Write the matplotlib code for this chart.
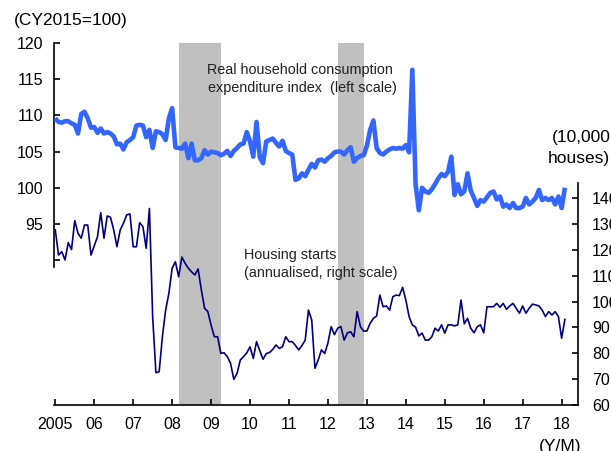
import numpy as np
import matplotlib
matplotlib.use("Agg")
import matplotlib.pyplot as plt

plt.rcParams['font.family'] = ['Liberation Sans', 'DejaVu Sans']

# ---------------- data ----------------
start_year = 2005  # monthly data, Jan 2005 onward

consumption = [
    109.6, 109.1, 109.0, 109.2, 109.2, 108.9, 108.7, 107.5, 110.2, 110.5, 109.6, 108.3,
    108.4, 107.6, 108.2, 107.5, 107.7, 107.5, 107.1, 106.0, 106.1, 105.3, 106.3, 106.6,
    107.0, 108.6, 108.7, 108.6, 107.0, 108.0, 105.5, 107.8, 107.7, 107.4, 106.6, 109.6,
    111.0, 105.6, 105.5, 105.4, 106.1, 104.1, 106.1, 103.8, 103.8, 104.1, 105.2, 104.6,
    105.0, 104.9, 104.8, 104.5, 104.7, 105.1, 104.4, 105.1, 105.5, 106.0, 106.1, 107.7,
    106.4, 104.3, 109.1, 104.2, 103.4, 106.4, 106.6, 106.8, 106.2, 105.7, 106.5, 105.1,
    104.8, 104.6, 101.1, 101.3, 102.0, 101.6, 102.5, 103.3, 102.8, 103.8, 103.9, 103.6,
    104.1, 104.4, 104.9, 105.0, 105.0, 104.6, 105.2, 105.6, 103.6, 104.1, 104.4, 104.5,
    105.8, 108.0, 109.3, 105.5, 104.8, 104.6, 105.0, 105.3, 105.5, 105.4, 105.5, 105.4,
    105.9, 104.9, 116.3, 100.5, 96.9, 100.0, 99.5, 99.3, 99.8, 100.5, 101.3, 101.9,
    101.6, 102.2, 104.3, 99.0, 100.5, 99.1, 99.5, 102.0, 99.6, 98.6, 97.5, 98.3,
    98.1, 98.7, 99.3, 99.5, 98.4, 98.8, 97.4, 97.7, 97.2, 97.9, 97.2, 97.2,
    97.4, 98.6, 97.7, 98.1, 98.6, 99.7, 98.3, 98.6, 98.3, 98.6, 97.7, 98.8,
    97.2, 100.0,
]

housing = [
    127.7, 118.0, 119.3, 116.1, 122.8, 120.1, 131.3, 126.4, 124.5, 129.6, 129.6, 118.0,
    121.5, 125.1, 134.4, 124.5, 133.1, 132.6, 127.7, 121.2, 127.7, 130.3, 133.5, 133.9,
    121.2, 121.2, 130.5, 129.0, 120.6, 136.0, 94.1, 72.5, 72.9, 86.4, 96.7, 103.2,
    112.9, 115.4, 109.6, 117.2, 114.8, 112.9, 111.5, 110.3, 112.6, 104.5, 97.4, 96.1,
    90.9, 86.4, 86.4, 80.0, 80.2, 78.7, 76.1, 69.9, 72.2, 77.4, 78.7, 80.2,
    82.5, 78.0, 84.5, 81.0, 77.7, 79.9, 80.3, 81.5, 83.2, 81.9, 82.5, 86.4,
    84.5, 84.5, 83.0, 81.3, 83.0, 85.1, 96.7, 92.9, 74.2, 77.4, 81.3, 79.9,
    84.0, 90.3, 87.2, 89.7, 90.3, 85.1, 87.9, 88.3, 86.4, 96.1, 90.3, 88.6,
    88.6, 91.6, 93.5, 94.4, 102.5, 98.0, 98.3, 96.7, 101.9, 102.5, 102.3, 105.5,
    100.6, 94.2, 91.0, 90.1, 86.7, 87.8, 85.1, 85.1, 86.4, 89.7, 88.6, 91.0,
    87.8, 91.0, 91.0, 90.6, 91.0, 100.6, 91.4, 93.5, 89.7, 87.9, 90.3, 91.0,
    87.9, 98.0, 98.0, 98.0, 99.3, 97.8, 99.3, 97.0, 98.3, 99.3, 97.4, 95.5,
    98.3, 95.5, 97.4, 99.0, 98.7, 98.3, 96.7, 94.2, 96.1, 94.8, 96.1, 94.2,
    85.8, 93.1,
]

# shaded periods (start month, end month)
shade_periods = [("2008-03", "2009-04"), ("2012-04", "2012-12")]

year_ticks = list(range(2005, 2019))
year_labels = ["2005"] + ["%02d" % (y % 100) for y in range(2006, 2019)]
left_ticks = [90, 95, 100, 105, 110, 115, 120]
left_labels = ["", "95", "100", "105", "110", "115", "120"]
right_ticks = [60, 70, 80, 90, 100, 110, 120, 130, 140]
right_labels = [str(v) for v in right_ticks]


def ym(s):
    y, m = s.split("-")
    return int(y) + (int(m) - 1) / 12.0


t_c = start_year + np.arange(len(consumption)) / 12.0
t_h = start_year + np.arange(len(housing)) / 12.0

# ---------------- figure ----------------
W, H = 611, 451
fig = plt.figure(figsize=(W / 100, H / 100), dpi=100)
ax = fig.add_axes([54 / W, 46 / H, 524 / W, 362 / H])
ax.set_xlim(2004.967, 2018.42)
ax.set_ylim(70, 120)
ax2 = ax.twinx()
ax2.set_ylim(60, 200)
ax.patch.set_visible(False)

for a, b in shade_periods:
    ax.axvspan(ym(a), ym(b), color="#C0C0C0", lw=0, zorder=0)

ax2.plot(t_h, housing, color="#000080", lw=1.2, zorder=3)
ax.plot(t_c, consumption, color="#3366FF", lw=3.3, zorder=4,
        solid_joinstyle="round", solid_capstyle="butt")

# spines
for s in ["top", "right"]:
    ax.spines[s].set_visible(False)
for s in ["top", "left", "bottom"]:
    ax2.spines[s].set_visible(False)
ax.spines["left"].set_bounds(89, 120)
ax2.spines["right"].set_bounds(60, 146)
for sp in [ax.spines["left"], ax.spines["bottom"], ax2.spines["right"]]:
    sp.set_linewidth(1.2)
    sp.set_color("black")

ax.set_xticks(year_ticks, year_labels)
ax.set_yticks(left_ticks, left_labels)
ax2.set_yticks(right_ticks, right_labels)
ax.tick_params(axis="x", direction="in", length=4, width=1.2, pad=8.5, labelsize=11.5)
ax.tick_params(axis="y", direction="in", length=4, width=1.2, pad=8, labelsize=11.5)
ax2.tick_params(axis="y", direction="in", length=4, width=1.2, pad=10, labelsize=11.5)

# texts
def ft(x, y, s, **kw):
    fig.text(x / W, 1 - y / H, s, **kw)

ft(14, 20, "(CY2015=100)", fontsize=12.5, va="center", ha="left")
ft(611, 138, "(10,000", fontsize=12.5, va="center", ha="right")
ft(610, 159, "houses)", fontsize=12.5, va="center", ha="right")
ft(581, 439, "(Y/M)", fontsize=12.5, va="top", ha="right")

txt_kw = dict(fontsize=10.4, va="center", color="#222222")
ft(300, 70, "Real household consumption", ha="center", **txt_kw)
ft(302, 88, "expenditure index  (left scale)", ha="center", **txt_kw)
ft(244, 255, "Housing starts", ha="left", **txt_kw)
ft(244, 273, "(annualised, right scale)", ha="left", **txt_kw)

fig.savefig("out.png", dpi=100)
